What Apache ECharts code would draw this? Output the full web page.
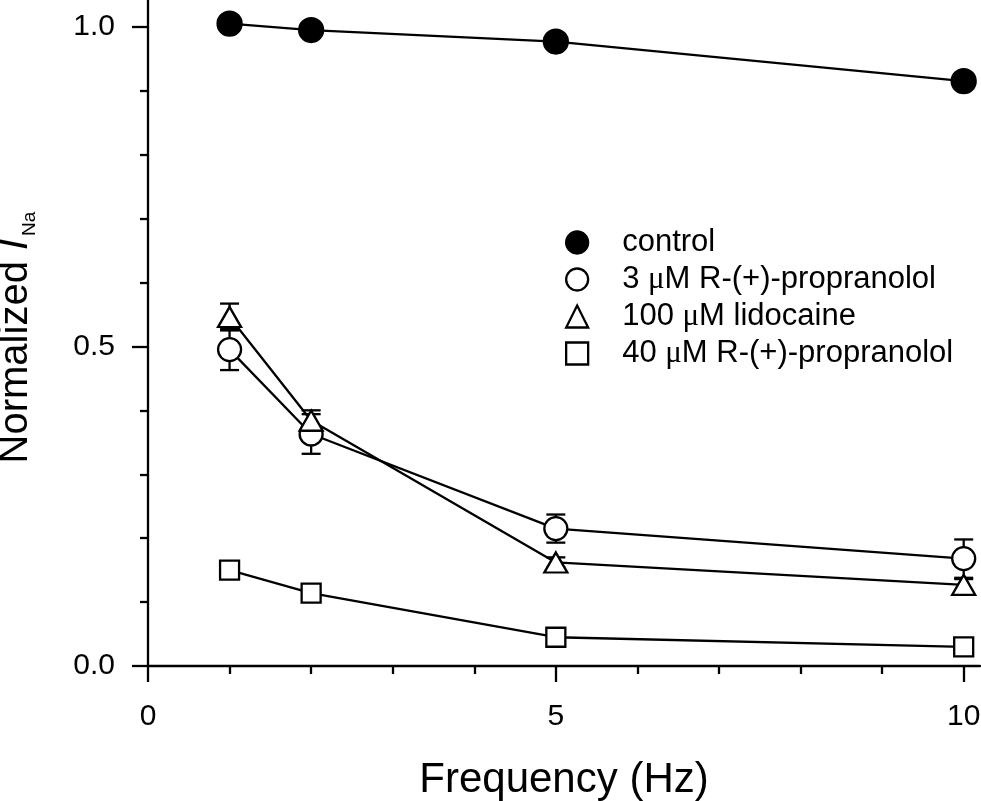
<!DOCTYPE html>
<html>
<head>
<meta charset="utf-8">
<script src="https://cdn.jsdelivr.net/npm/echarts@6/dist/echarts.min.js"></script>
<style>
html,body{margin:0;padding:0;background:#fff;}
#chart{width:981px;height:801px;}
</style>
</head>
<body>
<div id="chart"></div>
<script>
// ---- data ----
const freq = [1, 2, 5, 10];
const seriesNames = ['control', '3 μM R-(+)-propranolol', '100 μM lidocaine', '40 μM R-(+)-propranolol'];
const control    = [1.005, 0.995, 0.977, 0.915];
const controlErr = [0.004, 0.008, 0.005, 0.008];
const prop3      = [0.495, 0.363, 0.215, 0.168];
const prop3Err   = [0.032, 0.031, 0.022, 0.030];
const lido       = [0.546, 0.384, 0.162, 0.127];
const lidoErr    = [0.021, 0.016, 0.008, 0.009];
const prop40     = [0.150, 0.114, 0.045, 0.030];
const prop40Err  = [0.005, 0.005, 0.004, 0.004];
const xTickLabels = [0, 5, 10];
const yTickLabels = [0, 0.5, 1.0];

const FONT = '"Liberation Sans", Arial, Helvetica, sans-serif';
const BLACK = '#000';
const LW = 2.3;

function pts(vals) { return freq.map((f, i) => [f, vals[i]]); }
function errPts(vals, errs) { return freq.map((f, i) => [f, vals[i], errs[i]]); }

function renderErr(params, api) {
  const x = api.value(0), y = api.value(1), e = api.value(2);
  const top = api.coord([x, y + e]);
  const bot = api.coord([x, y - e]);
  const hw = 9.5;
  const st = { stroke: BLACK, lineWidth: LW };
  return {
    type: 'group',
    children: [
      { type: 'line', shape: { x1: top[0], y1: top[1], x2: bot[0], y2: bot[1] }, style: st },
      { type: 'line', shape: { x1: top[0] - hw, y1: top[1], x2: top[0] + hw, y2: top[1] }, style: st },
      { type: 'line', shape: { x1: bot[0] - hw, y1: bot[1], x2: bot[0] + hw, y2: bot[1] }, style: st }
    ]
  };
}

const defs = [
  { name: seriesNames[0], vals: control, errs: controlErr, symbol: 'circle', size: 24, fill: BLACK },
  { name: seriesNames[1], vals: prop3, errs: prop3Err, symbol: 'circle', size: 23, fill: '#fff' },
  { name: seriesNames[2], vals: lido, errs: lidoErr, symbol: 'triangle', size: [23, 20], fill: '#fff' },
  { name: seriesNames[3], vals: prop40, errs: prop40Err, symbol: 'rect', size: 19, fill: '#fff' }
];

const series = [];
defs.forEach((d, k) => {
  series.push({
    name: 'err-' + k,
    type: 'custom',
    renderItem: renderErr,
    encode: { x: 0, y: 1 },
    data: errPts(d.vals, d.errs),
    z: 2 + k * 2,
    clip: false,
    silent: true
  });
  series.push({
    name: d.name,
    type: 'line',
    data: pts(d.vals),
    symbol: d.symbol,
    symbolSize: d.size,
    showAllSymbol: true,
    lineStyle: { color: BLACK, width: LW },
    itemStyle: { color: d.fill, borderColor: BLACK, borderWidth: LW, opacity: 1 },
    z: 3 + k * 2,
    clip: false,
    emphasis: { disabled: true }
  });
});

const legendData = defs.map(d => ({
  name: d.name,
  icon: d.symbol,
  itemStyle: { color: d.fill, borderColor: BLACK, borderWidth: LW }
}));

const option = {
  animation: false,
  backgroundColor: '#fff',
  grid: { left: 148, right: 1, top: 0, bottom: 135, containLabel: false, outerBoundsMode: 'none' },
  legend: {
    orient: 'vertical',
    left: 560,
    top: 222,
    itemWidth: 22,
    itemHeight: 22,
    itemGap: 6,
    data: legendData,
    selectedMode: false,
    formatter: function (n) { return n.replace('μ', '{m|μ}'); },
    textStyle: {
      fontFamily: FONT, fontSize: 31, color: BLACK, lineHeight: 22,
      padding: [0, 0, 0, 29],
      rich: { m: { fontFamily: '"Liberation Serif", "DejaVu Serif", serif', fontSize: 31, color: BLACK, lineHeight: 22 } }
    }
  },
  xAxis: {
    type: 'value',
    min: 0,
    max: 10.2,
    interval: 5,
    axisLine: { show: true, onZero: false, lineStyle: { color: BLACK, width: LW } },
    axisTick: { show: true, inside: false, length: 16, lineStyle: { color: BLACK, width: LW }, customValues: xTickLabels },
    minorTick: { show: true, splitNumber: 5, length: 8, lineStyle: { color: BLACK, width: LW } },
    splitLine: { show: false },
    minorSplitLine: { show: false },
    axisLabel: {
      show: true, customValues: xTickLabels, margin: 36,
      fontFamily: FONT, fontSize: 30, color: BLACK,
      formatter: v => String(v)
    },
    name: 'Frequency (Hz)',
    nameLocation: 'middle',
    nameGap: 93,
    nameTextStyle: { fontFamily: FONT, fontSize: 42, color: BLACK }
  },
  yAxis: {
    type: 'value',
    min: 0,
    max: 1.042,
    interval: 0.5,
    axisLine: { show: true, onZero: false, lineStyle: { color: BLACK, width: LW } },
    axisTick: { show: true, inside: false, length: 16, lineStyle: { color: BLACK, width: LW }, customValues: yTickLabels },
    minorTick: { show: true, splitNumber: 5, length: 8, lineStyle: { color: BLACK, width: LW } },
    splitLine: { show: false },
    minorSplitLine: { show: false },
    axisLabel: {
      show: true, customValues: yTickLabels, margin: 33,
      fontFamily: FONT, fontSize: 30, color: BLACK,
      formatter: v => v.toFixed(1)
    },
    name: '{n|Normalized }{i|I}{s|Na}',
    nameLocation: 'middle',
    nameRotate: 90,
    nameGap: 110,
    nameTextStyle: {
      fontFamily: FONT, fontSize: 40, color: BLACK,
      padding: [0, 9, 0, 0],
      rich: {
        n: { fontFamily: FONT, fontSize: 40, color: BLACK, lineHeight: 44 },
        i: { fontFamily: FONT, fontSize: 40, fontStyle: 'italic', color: BLACK, lineHeight: 44, padding: [0, 3, 0, 0] },
        s: { fontFamily: FONT, fontSize: 19, color: BLACK, lineHeight: 20, padding: [27, 0, 0, 0] }
      }
    }
  },
  series: series
};

const chart = echarts.init(document.getElementById('chart'), null, { renderer: 'canvas' });
chart.setOption(option);
</script>
</body>
</html>
